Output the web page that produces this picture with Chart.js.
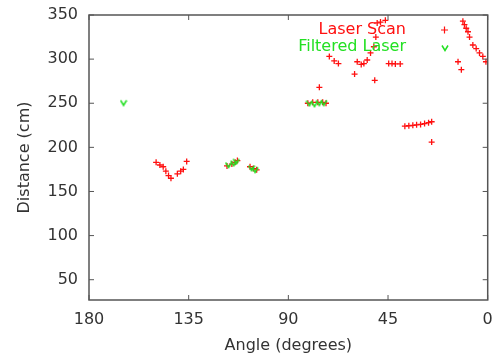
<!DOCTYPE html>
<html>
<head>
<meta charset="utf-8">
<script src="https://cdn.jsdelivr.net/npm/chart.js@4/dist/chart.umd.min.js"></script>
<style>
  html, body { margin: 0; padding: 0; background: #fff; }
  #wrap { width: 493px; height: 362px; }
</style>
</head>
<body>
<div id="wrap"><canvas id="scanChart"></canvas></div>
<script>
// laser scan readings (angle in degrees, distance in cm)
const redAngle = [149.7, 148.0, 146.5, 145.3, 144.1, 143.0, 140.1, 138.6, 137.4, 135.9,
    117.7, 115.5, 114.0, 113.0, 107.3, 105.8, 104.3,
    81.2, 79.0, 76.7, 74.5, 73.0, 76.0,
    71.5, 69.3, 67.4, 60.1, 58.9, 57.1, 55.9, 54.4, 52.9, 51.4, 50.5, 51.0, 49.9, 48.4, 46.2,
    44.7, 43.2, 41.7, 39.5,
    37.4, 35.6, 33.8, 32.1, 30.3, 28.5, 26.7, 25.3, 25.3,
    13.4, 11.9, 11.2, 10.5, 9.7, 8.9, 8.2, 6.7, 5.2, 3.7, 2.2, 0.8];
const redDist = [183, 180, 178, 173, 168, 165, 170, 173, 175, 184,
    179, 181, 183, 185, 178, 176, 174.5,
    250, 251, 251, 251, 250, 268,
    303, 298, 295, 283, 297, 294, 295, 299, 307, 314, 325, 276, 341, 342, 344,
    295, 295, 294.5, 294.5,
    224, 224.5, 225, 225.5, 226, 227, 228, 229, 206,
    297, 288, 343, 339, 335, 331, 325, 316, 312, 307, 303, 297];

// filtered readings
const greenAngle = [164.4, 117.0, 114.7, 113.5, 106.6, 105.0, 80.5, 78.2, 76.0, 74.0];
const greenDist = [250.5, 180, 182, 184, 176.5, 174.5, 250, 249, 250.5, 250.5];

const xTicks = [180, 135, 90, 45, 0];
const yTicks = [50, 100, 150, 200, 250, 300, 350];

const RED = '#ff1010';
const GREEN = '#22e022';
const FONT = "'DejaVu Sans', sans-serif";

// small green "v" marker like gnuplot's
function vMarker() {
    const c = document.createElement('canvas');
    c.width = 8; c.height = 8;
    const g = c.getContext('2d');
    g.strokeStyle = GREEN;
    g.lineWidth = 1.5;
    g.beginPath();
    g.moveTo(1, 1.5);
    g.lineTo(4, 6.5);
    g.lineTo(7, 1.5);
    g.stroke();
    return c;
}
const greenPt = vMarker();

function toPoints(xs, ys) {
    return xs.map((x, i) => ({ x: x, y: ys[i] }));
}

// frame, inward ticks and the gnuplot style key
const framePlugin = {
    id: 'frame',
    afterDraw(chart) {
        const ctx = chart.ctx;
        const a = chart.chartArea;
        const xs = chart.scales.x, ys = chart.scales.y;
        ctx.save();
        ctx.strokeStyle = '#555';
        ctx.lineWidth = 1.5;
        ctx.strokeRect(a.left, a.top, a.right - a.left, a.bottom - a.top);
        ctx.lineWidth = 1;
        ctx.beginPath();
        xTicks.forEach(v => {
            const px = xs.getPixelForValue(v);
            ctx.moveTo(px, a.bottom); ctx.lineTo(px, a.bottom - 5);
            ctx.moveTo(px, a.top); ctx.lineTo(px, a.top + 5);
        });
        yTicks.forEach(v => {
            const py = ys.getPixelForValue(v);
            ctx.moveTo(a.left, py); ctx.lineTo(a.left + 5, py);
            ctx.moveTo(a.right, py); ctx.lineTo(a.right - 5, py);
        });
        ctx.stroke();

        // key
        ctx.font = '16px ' + FONT;
        ctx.textAlign = 'right';
        ctx.textBaseline = 'middle';
        ctx.fillStyle = RED;
        ctx.fillText('Laser Scan', 406, 30);
        ctx.fillStyle = GREEN;
        ctx.fillText('Filtered Laser', 406, 47);
        ctx.strokeStyle = RED;
        ctx.lineWidth = 1.2;
        ctx.beginPath();
        ctx.moveTo(441, 30); ctx.lineTo(448, 30);
        ctx.moveTo(444.5, 26.5); ctx.lineTo(444.5, 33.5);
        ctx.stroke();
        ctx.drawImage(greenPt, 441, 44);
        ctx.restore();
    }
};

const ctx = document.getElementById('scanChart').getContext('2d');
const scanChart = new Chart(ctx, {
    type: 'scatter',
    data: {
        datasets: [
            {
                label: 'Laser Scan',
                data: toPoints(redAngle, redDist),
                pointStyle: 'cross',
                pointRadius: 3,
                pointBorderWidth: 1.3,
                borderColor: RED,
                backgroundColor: RED,
                order: 1
            },
            {
                label: 'Filtered Laser',
                data: toPoints(greenAngle, greenDist),
                pointStyle: greenPt,
                borderColor: GREEN,
                backgroundColor: GREEN,
                order: 0
            }
        ]
    },
    options: {
        responsive: true,
        maintainAspectRatio: false,
        animation: false,
        layout: { padding: { top: 15, right: 2, bottom: 0, left: 0 } },
        scales: {
            x: {
                type: 'linear',
                min: 0,
                max: 180,
                reverse: true,
                grid: { display: false, drawTicks: false },
                border: { display: false },
                afterBuildTicks: s => { s.ticks = xTicks.map(v => ({ value: v })); },
                afterFit: s => { s.height = 62; s.paddingLeft = 0; s.paddingRight = 0; },
                ticks: { color: '#333', padding: 10, font: { family: FONT, size: 16 }, maxRotation: 0 },
                title: {
                    display: true,
                    text: 'Angle (degrees)',
                    color: '#333',
                    font: { family: FONT, size: 16 },
                    padding: { top: 0, bottom: 7 }
                }
            },
            y: {
                min: 27,
                max: 350,
                grid: { display: false, drawTicks: false },
                border: { display: false },
                afterBuildTicks: s => { s.ticks = yTicks.map(v => ({ value: v })); },
                afterFit: s => { s.width = 89; s.paddingTop = 0; s.paddingBottom = 0; },
                ticks: { color: '#333', padding: 11, font: { family: FONT, size: 16 } },
                title: {
                    display: true,
                    text: 'Distance (cm)',
                    color: '#333',
                    font: { family: FONT, size: 16 },
                    padding: { top: 15, bottom: 0 }
                }
            }
        },
        plugins: {
            legend: { display: false },
            tooltip: { enabled: false }
        }
    },
    plugins: [framePlugin]
});
</script>
</body>
</html>
